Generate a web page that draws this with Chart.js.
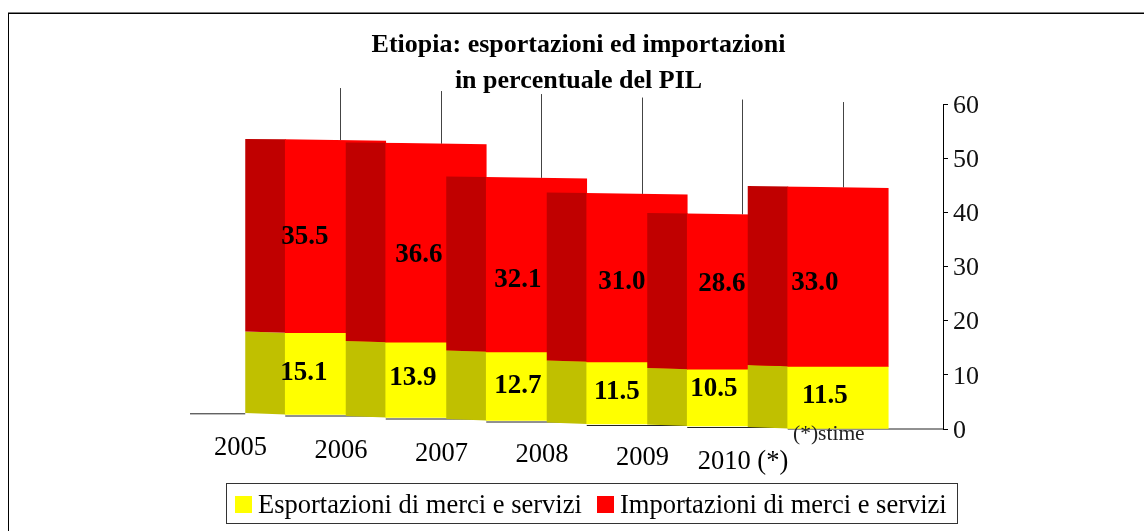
<!DOCTYPE html>
<html>
<head>
<meta charset="utf-8">
<title>Etiopia: esportazioni ed importazioni</title>
<script src="https://cdn.jsdelivr.net/npm/chart.js@4"></script>
<style>
    html, body { margin: 0; padding: 0; background: #fff; overflow: hidden; }
    #wrap { width: 1144px; height: 531px; position: relative; }
</style>
</head>
<body>
<div id="wrap"><canvas id="chart" width="1144" height="531"></canvas></div>
<script>
const titleLines = ['Etiopia: esportazioni ed importazioni', 'in percentuale del PIL'];
const categories = ['2005', '2006', '2007', '2008', '2009', '2010 (*)'];
const exportsPil = [15.1, 13.9, 12.7, 11.5, 10.5, 11.5];
const importsPil = [35.5, 36.6, 32.1, 31.0, 28.6, 33.0];
const seriesNames = ['Esportazioni di merci e servizi', 'Importazioni di merci e servizi'];
const footnote = '(*)stime';

// la finta prospettiva del grafico originale: ogni colonna scende un po' verso destra
const serif = "'Liberation Serif', 'Times New Roman', serif";
const baseShift = [-14, -11, -8, -4.5, -2.5, 0];
const yStretch = 1.006;
const sideWidth = 40;
const labelNudge = [
    [[-31.5, -2.5], [-23, -3.5], [-18.5, -2.5], [-20, -2.7], [-23.5, -10.7], [-13, -3]],
    [[-30.5, -1], [-17, 10], [-18.5, 13.5], [-15, 2.5], [-15.5, -9], [-23, 5]]
];
const tickShift = [31, 31, 31, 29, 29.5, 31];

function tiltY(chart, i, py) {
    const y0 = chart.chartArea.bottom;
    return y0 + baseShift[i] - (y0 - py) * yStretch;
}

const perspective = {
    id: 'perspective',
    beforeDatasetsDraw(chart) {
        const ctx = chart.ctx;
        const yScale = chart.scales.y;
        const area = chart.chartArea;
        const metas = chart.data.datasets.map((_, d) => chart.getDatasetMeta(d));
        const first = metas[0].data[0].getProps(['x', 'width'], true);

        // asse x a gradini
        ctx.save();
        ctx.strokeStyle = '#222';
        ctx.lineWidth = 1;
        ctx.beginPath();
        ctx.moveTo(190, tiltY(chart, 0, area.bottom) - 1.2);
        ctx.lineTo(first.x - first.width / 2 - sideWidth, tiltY(chart, 0, area.bottom) - 1.2);
        categories.forEach((_, i) => {
            const el = metas[0].data[i].getProps(['x', 'width'], true);
            const y = tiltY(chart, i, area.bottom) + (i === 5 ? 0 : 1);
            const end = i === 5 ? area.right : el.x + el.width / 2;
            ctx.moveTo(el.x - el.width / 2, y);
            ctx.lineTo(end, y);
        });
        ctx.stroke();

        // linee verticali dal 60 fino alla cima della colonna
        ctx.strokeStyle = '#444';
        categories.forEach((_, i) => {
            const el = metas[1].data[i].getProps(['x', 'y'], true);
            const x = Math.round(el.x + 5) + 0.5;
            ctx.beginPath();
            ctx.moveTo(x, tiltY(chart, i, yScale.getPixelForValue(60)));
            ctx.lineTo(x, tiltY(chart, i, el.y) + 1);
            ctx.stroke();
        });
        ctx.restore();

        categories.forEach((_, i) => {
            metas.forEach((meta, d) => {
                const bar = meta.data[i];
                const el = bar.getProps(['x', 'y', 'base', 'width'], true);
                const left = el.x - el.width / 2;
                const right = el.x + el.width / 2;
                const top = tiltY(chart, i, el.y);
                const bottom = tiltY(chart, i, el.base);
                const drop = py => 1.6 * (py - area.top) / area.height;

                // faccia laterale scura
                ctx.fillStyle = chart.data.datasets[d].sideColor;
                ctx.beginPath();
                ctx.moveTo(left - sideWidth, top - drop(el.y));
                ctx.lineTo(left + 0.5, top);
                ctx.lineTo(left + 0.5, bottom);
                ctx.lineTo(left - sideWidth, bottom - drop(el.base));
                ctx.closePath();
                ctx.fill();

                // faccia frontale: la barra vera, spostata e con la cima inclinata
                ctx.save();
                if (d === metas.length - 1) {
                    ctx.beginPath();
                    ctx.moveTo(left - 1, top);
                    ctx.lineTo(right + 1, top + 1.5);
                    ctx.lineTo(right + 1, bottom + 2);
                    ctx.lineTo(left - 1, bottom + 2);
                    ctx.closePath();
                    ctx.clip();
                }
                ctx.transform(1, 0, 0, yStretch, 0, bottom - el.base * yStretch);
                bar.draw(ctx);
                ctx.restore();
            });
        });
        return false;
    },
    afterDraw(chart) {
        const ctx = chart.ctx;
        const area = chart.chartArea;
        ctx.save();

        // cornice
        ctx.fillStyle = '#808080';
        ctx.fillRect(8, 12, 1136, 1);
        ctx.fillStyle = '#000';
        ctx.fillRect(8, 13, 1136, 1);
        ctx.fillRect(8, 13, 1, 518);

        // etichette delle categorie
        ctx.textAlign = 'center';
        ctx.textBaseline = 'middle';
        ctx.font = '26.5px ' + serif;
        categories.forEach((label, i) => {
            const el = chart.getDatasetMeta(0).data[i].getProps(['x'], true);
            ctx.fillText(label, el.x - 95, tiltY(chart, i, area.bottom) + tickShift[i] + 2);
        });

        // valori sulle barre
        ctx.font = 'bold 27px ' + serif;
        chart.data.datasets.forEach((ds, d) => {
            chart.getDatasetMeta(d).data.forEach((bar, i) => {
                const el = bar.getProps(['x', 'y', 'base'], true);
                const mid = (tiltY(chart, i, el.y) + tiltY(chart, i, el.base)) / 2;
                ctx.fillText(ds.data[i].y.toFixed(1), el.x + labelNudge[d][i][0], mid + labelNudge[d][i][1] + 2);
            });
        });

        // nota
        ctx.fillStyle = '#222';
        ctx.font = '21.5px ' + serif;
        ctx.textAlign = 'left';
        ctx.textBaseline = 'alphabetic';
        ctx.fillText(footnote, 793, 440);

        // legenda
        ctx.strokeStyle = '#333';
        ctx.lineWidth = 1;
        ctx.strokeRect(226.5, 483.5, 731, 40);
        ctx.font = '26.5px ' + serif;
        ctx.textBaseline = 'middle';
        const entryX = [235, 597];
        chart.data.datasets.forEach((ds, d) => {
            ctx.fillStyle = ds.backgroundColor;
            ctx.fillRect(entryX[d], 496, 17, 17);
            ctx.fillStyle = '#000';
            ctx.fillText(ds.label, entryX[d] + 23, 506);
        });
        ctx.restore();
    }
};

new Chart(document.getElementById('chart').getContext('2d'), {
    type: 'bar',
    data: {
        datasets: [
            {
                label: seriesNames[0],
                data: exportsPil.map((v, i) => ({ x: i, y: v })),
                backgroundColor: '#ffff00',
                sideColor: '#c0c000'
            },
            {
                label: seriesNames[1],
                data: importsPil.map((v, i) => ({ x: i, y: v })),
                backgroundColor: '#ff0000',
                sideColor: '#c00000'
            }
        ]
    },
    options: {
        responsive: false,
        animation: false,
        barPercentage: 1,
        categoryPercentage: 1,
        layout: { padding: { left: 13, top: 27, right: 0, bottom: 0 } },
        plugins: {
            legend: { display: false },
            tooltip: { enabled: false },
            title: {
                display: true,
                text: titleLines,
                color: '#000',
                font: { family: serif, size: 26, weight: 'bold', lineHeight: 36 / 26 },
                padding: { top: 0, bottom: 5 }
            }
        },
        scales: {
            x: {
                type: 'linear',
                stacked: true,
                offset: false,
                min: -3.209,
                max: 6.045,
                grid: { display: false },
                border: { display: false },
                ticks: { display: false },
                afterFit(scale) { scale.height = 102; }
            },
            y: {
                position: 'right',
                stacked: true,
                min: 0,
                max: 60,
                grid: { drawOnChartArea: false, tickLength: 5, color: '#000' },
                border: { color: '#000' },
                ticks: {
                    stepSize: 10,
                    padding: 5,
                    labelOffset: 2,
                    color: '#111',
                    font: { family: serif, size: 26 }
                },
                afterFit(scale) { scale.width = 201; }
            }
        }
    },
    plugins: [perspective]
});
</script>
</body>
</html>
